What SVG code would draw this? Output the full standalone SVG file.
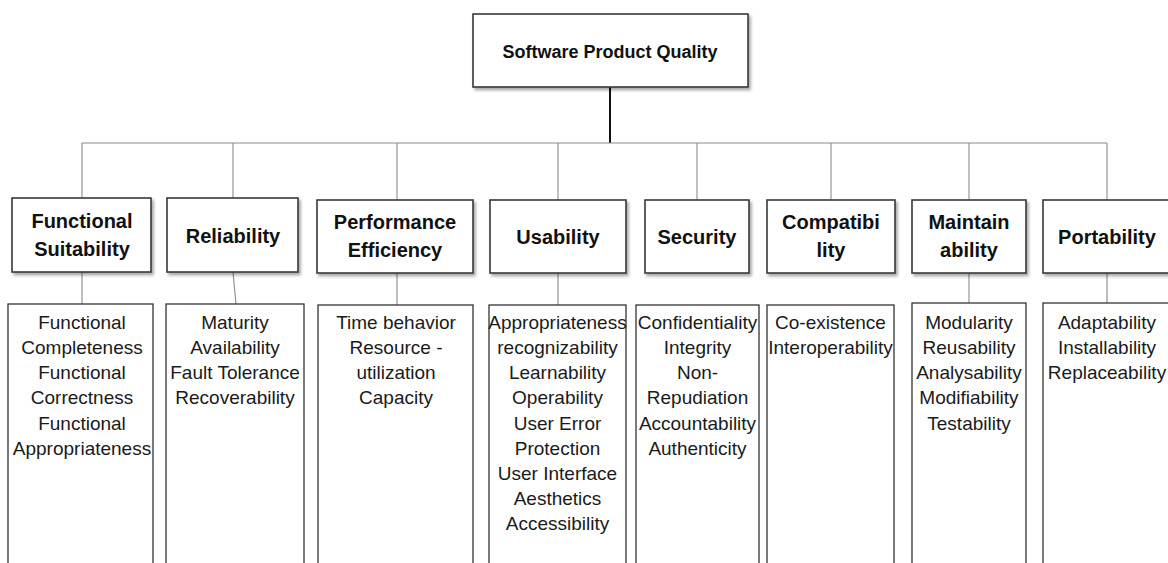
<svg xmlns="http://www.w3.org/2000/svg" width="1168" height="563" viewBox="0 0 1168 563">
<defs>
<filter id="sh" x="-10%" y="-10%" width="130%" height="140%">
<feDropShadow dx="2" dy="2.5" stdDeviation="1.5" flood-color="#000" flood-opacity="0.35"/>
</filter>
<style>
.hb{fill:#fff;stroke:#3a3a3a;stroke-width:1.6;filter:url(#sh)}
.db{fill:#fff;stroke:#333;stroke-width:1.3}
.ht{font-family:"Liberation Sans",Arial,sans-serif;font-weight:bold;font-size:20px;fill:#111;text-anchor:middle}
.tt{font-family:"Liberation Sans",Arial,sans-serif;font-weight:bold;font-size:18px;fill:#111;text-anchor:middle}
.bt{font-family:"Liberation Sans",Arial,sans-serif;font-size:19px;fill:#1a1a1a;text-anchor:middle}
.cn{stroke:#8a8a8a;stroke-width:1.1;fill:none}
</style>
</defs>
<rect width="1168" height="563" fill="#fff"/>
<g id="connectors">
<line x1="610" y1="87" x2="610" y2="143" stroke="#111" stroke-width="2"/>
<line class="cn" x1="82" y1="143" x2="1107" y2="143"/>
<line class="cn" x1="82" y1="143" x2="82" y2="198"/>
<line class="cn" x1="233" y1="143" x2="233" y2="198"/>
<line class="cn" x1="397" y1="143" x2="397" y2="200"/>
<line class="cn" x1="558" y1="143" x2="558" y2="200"/>
<line class="cn" x1="697" y1="143" x2="697" y2="200"/>
<line class="cn" x1="831" y1="143" x2="831" y2="200"/>
<line class="cn" x1="969" y1="143" x2="969" y2="200"/>
<line class="cn" x1="1107" y1="143" x2="1107" y2="200"/>
<line class="cn" x1="82" y1="272" x2="82" y2="304"/>
<line class="cn" x1="233" y1="272" x2="236" y2="304"/>
<line class="cn" x1="397" y1="273" x2="397" y2="305"/>
<line class="cn" x1="558" y1="273" x2="558" y2="305"/>
<line class="cn" x1="969" y1="273" x2="969" y2="303"/>
<line class="cn" x1="1107" y1="273" x2="1107" y2="303"/>
</g>
<g id="root">
<rect class="hb" x="473" y="14" width="275" height="73"/>
<text class="tt" x="610" y="58">Software Product Quality</text>
</g>
<g id="functional-suitability">
<rect class="hb" x="12" y="198" width="139" height="74"/>
<text class="ht" x="82" y="228">Functional</text>
<text class="ht" x="82" y="256">Suitability</text>
</g>
<g id="reliability">
<rect class="hb" x="167" y="198" width="131" height="74"/>
<text class="ht" x="233" y="243">Reliability</text>
</g>
<g id="performance-efficiency">
<rect class="hb" x="317" y="200" width="156" height="73"/>
<text class="ht" x="395" y="229">Performance</text>
<text class="ht" x="395" y="257">Efficiency</text>
</g>
<g id="usability">
<rect class="hb" x="490" y="200" width="136" height="73"/>
<text class="ht" x="558" y="244">Usability</text>
</g>
<g id="security">
<rect class="hb" x="645" y="200" width="104" height="73"/>
<text class="ht" x="697" y="244">Security</text>
</g>
<g id="compatibility">
<rect class="hb" x="767" y="200" width="128" height="73"/>
<text class="ht" x="831" y="229">Compatibi</text>
<text class="ht" x="831" y="257">lity</text>
</g>
<g id="maintainability">
<rect class="hb" x="912" y="200" width="114" height="73"/>
<text class="ht" x="969" y="229">Maintain</text>
<text class="ht" x="969" y="257">ability</text>
</g>
<g id="portability">
<rect class="hb" x="1043" y="200" width="128" height="73"/>
<text class="ht" x="1107" y="244">Portability</text>
</g>
<g id="fs-details">
<rect class="db" x="8" y="304" width="145" height="270"/>
<text class="bt" x="82" y="329">Functional</text>
<text class="bt" x="82" y="354">Completeness</text>
<text class="bt" x="82" y="379">Functional</text>
<text class="bt" x="82" y="404">Correctness</text>
<text class="bt" x="82" y="430">Functional</text>
<text class="bt" x="82" y="455">Appropriateness</text>
</g>
<g id="rel-details">
<rect class="db" x="166" y="304" width="138" height="270"/>
<text class="bt" x="235" y="329">Maturity</text>
<text class="bt" x="235" y="354">Availability</text>
<text class="bt" x="235" y="379">Fault Tolerance</text>
<text class="bt" x="235" y="404">Recoverability</text>
</g>
<g id="pe-details">
<rect class="db" x="318" y="305" width="155" height="270"/>
<text class="bt" x="396" y="329">Time behavior</text>
<text class="bt" x="396" y="354">Resource -</text>
<text class="bt" x="396" y="379">utilization</text>
<text class="bt" x="396" y="404">Capacity</text>
</g>
<g id="usab-details">
<rect class="db" x="489" y="305" width="137" height="270"/>
<text class="bt" x="557.5" y="329">Appropriateness</text>
<text class="bt" x="557.5" y="354">recognizability</text>
<text class="bt" x="557.5" y="379">Learnability</text>
<text class="bt" x="557.5" y="404">Operability</text>
<text class="bt" x="557.5" y="430">User Error</text>
<text class="bt" x="557.5" y="455">Protection</text>
<text class="bt" x="557.5" y="480">User Interface</text>
<text class="bt" x="557.5" y="505">Aesthetics</text>
<text class="bt" x="557.5" y="530">Accessibility</text>
</g>
<g id="sec-details">
<rect class="db" x="636" y="305" width="123" height="270"/>
<text class="bt" x="697.5" y="329">Confidentiality</text>
<text class="bt" x="697.5" y="354">Integrity</text>
<text class="bt" x="697.5" y="379">Non-</text>
<text class="bt" x="697.5" y="404">Repudiation</text>
<text class="bt" x="697.5" y="430">Accountability</text>
<text class="bt" x="697.5" y="455">Authenticity</text>
</g>
<g id="compat-details">
<rect class="db" x="767" y="305" width="127" height="270"/>
<text class="bt" x="830.5" y="329">Co-existence</text>
<text class="bt" x="830.5" y="354">Interoperability</text>
</g>
<g id="maint-details">
<rect class="db" x="912" y="303" width="114" height="270"/>
<text class="bt" x="969" y="329">Modularity</text>
<text class="bt" x="969" y="354">Reusability</text>
<text class="bt" x="969" y="379">Analysability</text>
<text class="bt" x="969" y="404">Modifiability</text>
<text class="bt" x="969" y="430">Testability</text>
</g>
<g id="port-details">
<rect class="db" x="1043" y="303" width="130" height="270"/>
<text class="bt" x="1107" y="329">Adaptability</text>
<text class="bt" x="1107" y="354">Installability</text>
<text class="bt" x="1107" y="379">Replaceability</text>
</g>
</svg>
